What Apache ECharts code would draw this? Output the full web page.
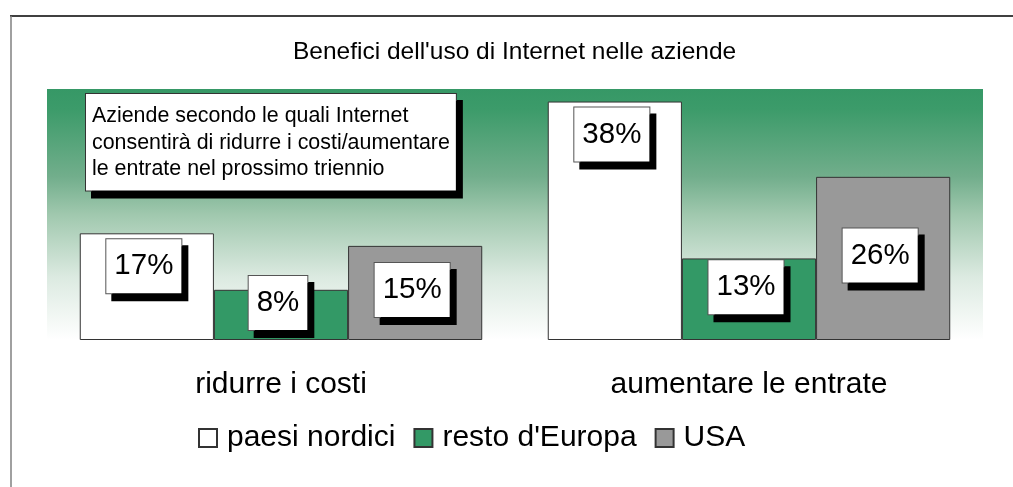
<!DOCTYPE html>
<html>
<head>
<meta charset="utf-8">
<title>Benefici dell'uso di Internet nelle aziende</title>
<script src="https://cdn.jsdelivr.net/npm/echarts@6/dist/echarts.min.js"></script>
<style>
  html, body { margin: 0; padding: 0; background: #fff; }
  #chart { width: 1013px; height: 487px; }
</style>
</head>
<body>
<div id="chart"></div>
<script>
// dati
var categories = ['ridurre i costi', 'aumentare le entrate'];
var seriesNames = ['paesi nordici', "resto d'Europa", 'USA'];
var nordici = [17, 38];
var restoEuropa = [8, 13];
var usa = [15, 26];
var titleText = "Benefici dell'uso di Internet nelle aziende";
var noteText = 'Aziende secondo le quali Internet\nconsentirà di ridurre i costi/aumentare\nle entrate nel prossimo triennio';

var font = "'Liberation Sans', Arial, sans-serif";
var chart = echarts.init(document.getElementById('chart'), null, {renderer: 'canvas'});

// etichetta bianca con ombra nera
function makeLabel(pos, offset, distance) {
  return {
    show: true,
    position: pos,
    distance: distance || 0,
    offset: offset,
    formatter: '{c}%',
    color: '#000',
    fontFamily: font,
    fontSize: 29.5,
    lineHeight: 30,
    backgroundColor: '#fff',
    borderColor: '#555',
    borderWidth: 1,
    padding: [12, 8],
    shadowColor: '#000',
    shadowBlur: 0,
    shadowOffsetX: 6,
    shadowOffsetY: 7
  };
}

function makeSeries(name, data, color, label) {
  return {
    name: name,
    type: 'bar',
    data: data,
    barGap: '0%',
    barCategoryGap: '14%',
    itemStyle: {
      color: color,
      borderColor: '#333',
      borderWidth: 1
    },
    label: label,
    emphasis: { disabled: true }
  };
}

chart.setOption({
  animation: false,
  title: {
    text: titleText,
    left: 288,
    top: 35,
    textStyle: { color: '#000', fontFamily: font, fontSize: 24.5, fontWeight: 'normal' }
  },
  legend: {
    data: seriesNames,
    left: 193,
    top: 418,
    icon: 'rect',
    itemWidth: 18,
    itemHeight: 18,
    itemGap: 18,
    selectedMode: false,
    textStyle: { color: '#000', fontFamily: font, fontSize: 30, padding: [0, 0, 0, 5] }
  },
  grid: {
    left: 47,
    right: 30,
    top: 89,
    bottom: 147,
    show: true,
    borderWidth: 0,
    // sfondo verde sfumato verso il bianco
    backgroundColor: {
      type: 'linear', x: 0, y: 0, x2: 0, y2: 1,
      colorStops: [
        { offset: 0, color: '#369866' },
        { offset: 0.08, color: '#3c9b6a' },
        { offset: 0.35, color: '#72ae8c' },
        { offset: 0.5, color: '#a0c8ae' },
        { offset: 0.75, color: '#dceae1' },
        { offset: 1, color: '#ffffff' }
      ]
    }
  },
  xAxis: {
    type: 'category',
    data: categories,
    axisLine: { show: false },
    axisTick: { show: false },
    axisLabel: { color: '#000', fontFamily: font, fontSize: 30, margin: 30 }
  },
  yAxis: {
    type: 'value',
    min: 0,
    max: 40,
    show: false,
    splitLine: { show: false }
  },
  series: [
    makeSeries(seriesNames[0], nordici, '#ffffff', makeLabel('insideTop', [-3, 0], 6)),
    makeSeries(seriesNames[1], restoEuropa, '#339966', makeLabel('inside', [-3, -12])),
    makeSeries(seriesNames[2], usa, '#999999', makeLabel('inside', [-3, -3]))
  ],
  graphic: [
    // cornice: linea in alto e a sinistra
    { type: 'line', shape: { x1: 10, y1: 16, x2: 1013, y2: 16 }, style: { stroke: '#000', lineWidth: 1.5 } },
    { type: 'line', shape: { x1: 11, y1: 16, x2: 11, y2: 487 }, style: { stroke: '#808080', lineWidth: 1.5 } },
    // riquadro di nota
    {
      type: 'text',
      x: 86,
      y: 94,
      z: 10,
      style: {
        text: noteText,
        fill: '#000',
        font: '21.4px ' + font,
        lineHeight: 26.5,
        backgroundColor: '#fff',
        borderColor: '#333',
        borderWidth: 1,
        padding: [9, 6, 8, 6],
        shadowColor: '#000',
        shadowBlur: 0,
        shadowOffsetX: 6,
        shadowOffsetY: 7
      }
    }
  ]
});
</script>
</body>
</html>
